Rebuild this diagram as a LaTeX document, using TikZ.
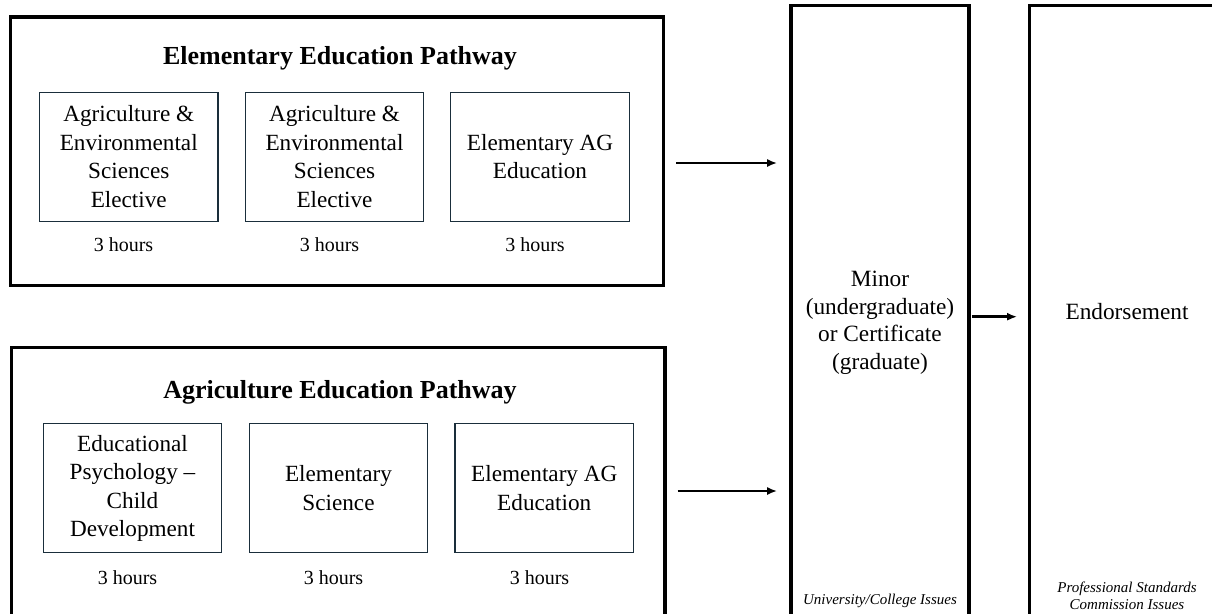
\documentclass[tikz,border=0pt]{standalone}
\usepackage{fontspec}
\setmainfont{Liberation Serif}
\usetikzlibrary{arrows.meta}
\definecolor{slate}{HTML}{1A2E3B}
\begin{document}
\begin{tikzpicture}[x=1pt,y=-1pt,
  outerbox/.style={draw=black, line width=3.4pt, inner sep=0pt},
  colbox/.style={draw=black, line width=3.7pt, inner sep=0pt, align=center, font=\fontsize{23.3}{27.5}\selectfont},
  cell/.style={draw=slate, line width=1.4pt, inner sep=0pt, minimum width=178.5pt, minimum height=129pt, align=center, font=\fontsize{23.2}{28.5}\selectfont},
  title/.style={font=\bfseries\fontsize{26}{30}\selectfont, inner sep=0pt},
  hours/.style={font=\fontsize{20}{24}\selectfont, inner sep=0pt},
  note/.style={font=\itshape\fontsize{15}{17}\selectfont, align=center, inner sep=0pt},
  bigtext/.style={font=\fontsize{23.3}{27.5}\selectfont, inner sep=0pt},
  arr/.style={line width=2.8pt, -{Latex[length=10pt,width=8pt]}}]
\useasboundingbox (0,0) rectangle (1212,613);
\fill[white] (0,0) rectangle (1212,613);

% pathway frames
\node[outerbox, minimum width=652.8pt, minimum height=268.5pt] (eep) at (337.1,151.25) {};
\node[outerbox, minimum width=653.5pt, minimum height=292.5pt] (aep) at (338.25,493.75) {};

% titles
\node[title] (t1) at (340,58.5) {Elementary Education Pathway};
\node[title] (t2) at (340,392) {Agriculture Education Pathway};

% top row courses
\node[cell] (c1) at (128.75,156.75) {Agriculture \&\\Environmental\\Sciences\\Elective};
\node[cell] (c2) at (334.5,156.75) {Agriculture \&\\Environmental\\Sciences\\Elective};
\node[cell] (c3) at (540,156.75) {Elementary AG\\Education};
\node[hours] (h1) at (123.5,245) {3 hours};
\node[hours] (h2) at (329.5,245) {3 hours};
\node[hours] (h3) at (535,245) {3 hours};

% bottom row courses
\node[cell] (d1) at (132.5,488.25) {Educational\\Psychology –\\Child\\Development};
\node[cell] (d2) at (338.5,488.25) {Elementary\\Science};
\node[cell] (d3) at (544.25,488.25) {Elementary AG\\Education};
\node[hours] (k1) at (127.5,578) {3 hours};
\node[hours] (k2) at (333.5,578) {3 hours};
\node[hours] (k3) at (539.5,578) {3 hours};

% columns
\node[colbox, minimum width=178pt, minimum height=634.5pt] (mid) at (880,322.75) {Minor\\(undergraduate)\\or Certificate\\(graduate)};
\node[colbox, minimum width=196.5pt, minimum height=634.5pt] (endbox) at (1127.75,322.75) {};
\node[bigtext] (endo) at (1127,312) {Endorsement};
\node[note] (uni) at (880,601) {University/College Issues};
\node[note] (psc) at (1127,596) {Professional Standards\\Commission Issues};

% connectors
\draw[arr, shorten <=11pt, shorten >=12pt] (eep.east |- 0,163) -- (mid.west |- 0,163);
\draw[arr, shorten <=11pt, shorten >=12pt] (aep.east |- 0,491) -- (mid.west |- 0,491);
\draw[arr, shorten <=1pt, shorten >=10.5pt] (mid.east |- 0,316.7) -- (endbox.west |- 0,316.7);
\end{tikzpicture}
\end{document}
